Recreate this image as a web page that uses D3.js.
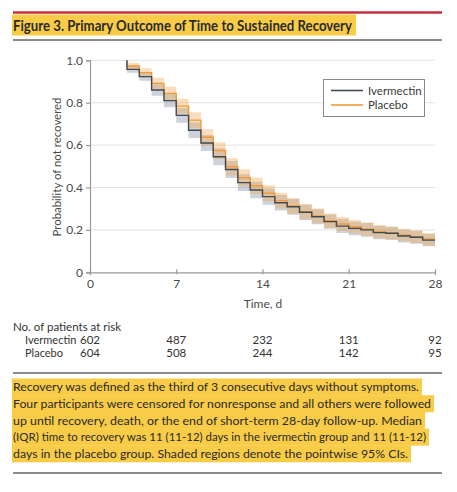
<!DOCTYPE html>
<html><head><meta charset="utf-8">
<script src="https://cdn.jsdelivr.net/npm/d3@7"></script>
<style>html,body{margin:0;padding:0;background:#fff;}svg{display:block;}</style>
</head><body><div id="chart"></div>
<script>
// ---------- data ----------
const stepDays = [3,4,5,6,7,8,9,10,11,12,13,14,15,16,17,18,19,20,21,22,23,24,25,26,27];
const endDay = 28;
const ivermectin = [0.957,0.923,0.860,0.810,0.740,0.670,0.610,0.545,0.485,0.423,0.388,0.357,0.328,0.309,0.283,0.262,0.239,0.218,0.207,0.200,0.187,0.184,0.171,0.165,0.152];
const ivermectinLo = [0.941,0.903,0.833,0.779,0.705,0.633,0.572,0.505,0.445,0.383,0.349,0.319,0.291,0.272,0.247,0.227,0.205,0.185,0.175,0.168,0.156,0.153,0.141,0.135,0.123];
const ivermectinHi = [0.973,0.943,0.887,0.841,0.775,0.707,0.648,0.585,0.525,0.463,0.427,0.395,0.365,0.346,0.319,0.297,0.273,0.251,0.239,0.232,0.218,0.215,0.201,0.195,0.181];
const placebo = [0.973,0.942,0.891,0.844,0.784,0.718,0.637,0.574,0.498,0.446,0.408,0.373,0.338,0.313,0.286,0.266,0.243,0.228,0.215,0.203,0.192,0.184,0.176,0.168,0.156];
const placeboLo = [0.958,0.922,0.864,0.813,0.749,0.681,0.599,0.534,0.458,0.406,0.369,0.335,0.301,0.276,0.250,0.231,0.209,0.195,0.183,0.171,0.161,0.153,0.146,0.138,0.127];
const placeboHi = [0.988,0.962,0.918,0.875,0.819,0.755,0.675,0.614,0.538,0.486,0.447,0.411,0.375,0.350,0.322,0.301,0.277,0.261,0.247,0.235,0.223,0.215,0.206,0.198,0.185];
const xTicks = [0,7,14,21,28];
const yTicks = [0,0.2,0.4,0.6,0.8,1.0];
const yTickLabels = ["0","0.2","0.4","0.6","0.8","1.0"];
const seriesNames = ["Ivermectin","Placebo"];
const riskIvermectin = [602,487,232,131,92];
const riskPlacebo = [604,508,244,142,95];
const titleText = "Figure 3. Primary Outcome of Time to Sustained Recovery";
const footLines = [
  "Recovery was defined as the third of 3 consecutive days without symptoms.",
  "Four participants were censored for nonresponse and all others were followed",
  "up until recovery, death, or the end of short-term 28-day follow-up. Median",
  "(IQR) time to recovery was 11 (11-12) days in the ivermectin group and 11 (11-12)",
  "days in the placebo group. Shaded regions denote the pointwise 95% CIs."
];

// ---------- layout ----------
const W = 457, H = 492;
const FONT = "Lato, 'Open Sans', sans-serif";
const svg = d3.select("#chart").append("svg").attr("width", W).attr("height", H)
  .style("font-family", FONT);

const colIver = "#3f4a55", colPlac = "#f29a3a";
const bandIver = "rgba(90,110,130,0.30)", bandPlac = "rgba(242,165,80,0.38)";
const hl = "#f9cc47";

// fit text into a width: shrink font if natural width is larger, then pin length
function fitText(sel, target, baseSize){
  sel.attr("font-size", baseSize);
  const L = sel.node().getComputedTextLength();
  if (L > target) sel.attr("font-size", baseSize * target / L);
  sel.attr("textLength", target).attr("lengthAdjust","spacingAndGlyphs");
}

// header rules & title
svg.append("line").attr("x1",13).attr("x2",442).attr("y1",12.5).attr("y2",12.5)
  .attr("stroke","#c8303f").attr("stroke-width",2.5);
svg.append("rect").attr("x",12).attr("y",14.5).attr("width",344).attr("height",21).attr("fill",hl);
const tt = svg.append("text").attr("x",13).attr("y",31).text(titleText)
  .attr("font-weight",700).attr("fill","#2a2a2a");
tt.attr("font-size",14.5).attr("textLength",339).attr("lengthAdjust","spacingAndGlyphs");
svg.append("line").attr("x1",13).attr("x2",442).attr("y1",40).attr("y2",40)
  .attr("stroke","#8c8c8c").attr("stroke-width",2);

// scales
const x = d3.scaleLinear().domain([0,28]).range([90,435]);
const y = d3.scaleLinear().domain([0,1]).range([272.3,60.3]);

// grid
svg.append("g").selectAll("line").data(yTicks.filter(d=>d>0)).join("line")
  .attr("x1",x(0)).attr("x2",x(28)).attr("y1",d=>y(d)).attr("y2",d=>y(d))
  .attr("stroke","#e3e3e3").attr("stroke-width",1);

// axes
const axisCol = "#9a9a9a", labCol = "#4a4a4a";
const yAxis = svg.append("g").attr("transform",`translate(${x(0)},0)`)
  .call(d3.axisLeft(y).tickValues(yTicks).tickFormat((d,i)=>yTickLabels[i]).tickSize(4).tickPadding(3));
const xAxis = svg.append("g").attr("transform",`translate(0,${y(0)})`)
  .call(d3.axisBottom(x).tickValues(xTicks).tickSize(3).tickPadding(4));
[yAxis,xAxis].forEach(g=>{
  g.select(".domain").attr("stroke",axisCol).attr("stroke-width",1.2);
  g.selectAll(".tick line").attr("stroke",axisCol).attr("stroke-width",1.2);
  g.selectAll(".tick text").attr("fill",labCol).attr("font-size",12).attr("font-family",FONT);
});
xAxis.selectAll(".tick line").attr("y1",-3).attr("y2",2);

svg.append("text").attr("transform","translate(61,167) rotate(-90)").attr("text-anchor","middle")
  .attr("font-size",12).attr("fill",labCol).text("Probability of not recovered")
  .attr("textLength",139).attr("lengthAdjust","spacingAndGlyphs");
svg.append("text").attr("x",263).attr("y",308).attr("text-anchor","middle")
  .attr("font-size",12).attr("fill",labCol).text("Time, d");

// build step data
function pts(vals){ const p = stepDays.map((d,i)=>({t:d,v:vals[i]})); p.push({t:endDay,v:vals[vals.length-1]}); return p; }
function bandPts(lo,hi){ const p = stepDays.map((d,i)=>({t:d,lo:lo[i],hi:hi[i]})); p.push({t:endDay,lo:lo[lo.length-1],hi:hi[hi.length-1]}); return p; }
const area = d3.area().x(d=>x(d.t)).y0(d=>y(d.lo)).y1(d=>y(d.hi)).curve(d3.curveStepAfter);
const line = d3.line().x(d=>x(d.t)).y(d=>y(d.v)).curve(d3.curveStepAfter);

svg.append("path").attr("d",area(bandPts(ivermectinLo,ivermectinHi))).attr("fill",bandIver);
svg.append("path").attr("d",area(bandPts(placeboLo,placeboHi))).attr("fill",bandPlac);
const ivPts = [{t:stepDays[0],v:1.0}].concat(pts(ivermectin));
const plPts = [{t:stepDays[0],v:1.0}].concat(pts(placebo));
svg.append("path").attr("d",line(plPts)).attr("fill","none").attr("stroke",colPlac).attr("stroke-width",1.4);
svg.append("path").attr("d",line(ivPts)).attr("fill","none").attr("stroke",colIver).attr("stroke-width",1.4);

// legend
const lg = svg.append("g");
lg.append("rect").attr("x",323.5).attr("y",79.5).attr("width",101).attr("height",37)
  .attr("fill","#fff").attr("stroke","#8a8a8a").attr("stroke-width",1);
[colIver,colPlac].forEach((c,i)=>{
  const yy = 90.5 + i*14.5;
  lg.append("line").attr("x1",331).attr("x2",363).attr("y1",yy).attr("y2",yy).attr("stroke",c).attr("stroke-width",1.6);
  lg.append("text").attr("x",368).attr("y",yy+4).attr("font-size",11.5).attr("fill","#3a3a3a").text(seriesNames[i]);
});

// risk table
const rc = "#333";
svg.append("text").attr("x",13).attr("y",331).attr("font-size",11.5).attr("fill",rc)
  .text("No. of patients at risk");
[riskIvermectin,riskPlacebo].forEach((arr,r)=>{
  const yy = 344 + r*12.7;
  svg.append("text").attr("x",25).attr("y",yy).attr("font-size",11).attr("fill",rc).text(seriesNames[r]);
  svg.append("g").selectAll("text").data(arr).join("text")
    .attr("x",(d,i)=>x(xTicks[i])).attr("y",yy).attr("text-anchor","middle")
    .attr("font-size",11.5).attr("fill",rc).text(d=>d);
});

// footnote
svg.append("line").attr("x1",13).attr("x2",442).attr("y1",373).attr("y2",373)
  .attr("stroke","#8c8c8c").attr("stroke-width",2);
const footEnds = [419,431,422,426,408];
const lh = 16.7, top0 = 378.5;
footLines.forEach((s,i)=>{
  svg.append("rect").attr("x",12).attr("y",top0+i*lh).attr("width",footEnds[i]-12+3).attr("height",lh+0.3).attr("fill",hl);
});
footLines.forEach((s,i)=>{
  const t = svg.append("text").attr("x",13).attr("y",top0+i*lh+12.6).attr("fill","#2a2a2a").text(s);
  fitText(t, footEnds[i]-13, 12.4);
});
svg.append("line").attr("x1",13).attr("x2",442).attr("y1",473).attr("y2",473)
  .attr("stroke","#8c8c8c").attr("stroke-width",2);
</script></body></html>
